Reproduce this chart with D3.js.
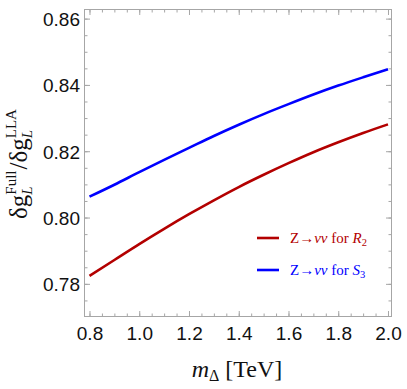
<!DOCTYPE html>
<html><head><meta charset="utf-8">
<script src="https://cdn.jsdelivr.net/npm/d3@7"></script>
<style>
html,body{margin:0;padding:0;background:#fff;}
svg{display:block;}
</style></head>
<body>
<svg id="chart" width="407" height="389"></svg>
<script>
// ---- data ----
const masses = [0.8, 0.9, 1.0, 1.1, 1.2, 1.3, 1.4, 1.5, 1.6, 1.7, 1.8, 1.9, 2.0];
const r2Values = [0.7824, 0.7872, 0.7920, 0.7966, 0.8010, 0.8052, 0.8092, 0.8129, 0.8164, 0.8197, 0.8227, 0.8255, 0.8281];
const s3Values = [0.8063, 0.8099, 0.8137, 0.8174, 0.8210, 0.8246, 0.8280, 0.8312, 0.8342, 0.8371, 0.8398, 0.8423, 0.8447];
const xTickValues = [0.8, 1.0, 1.2, 1.4, 1.6, 1.8, 2.0];
const xMinorValues = [0.8, 0.85, 0.9, 0.95, 1.0, 1.05, 1.1, 1.15, 1.2, 1.25, 1.3, 1.35, 1.4, 1.45, 1.5, 1.55, 1.6, 1.65, 1.7, 1.75, 1.8, 1.85, 1.9, 1.95, 2.0];
const yTickValues = [0.78, 0.80, 0.82, 0.84, 0.86];
const yMinorValues = [0.775, 0.78, 0.785, 0.79, 0.795, 0.80, 0.805, 0.81, 0.815, 0.82, 0.825, 0.83, 0.835, 0.84, 0.845, 0.85, 0.855, 0.86];
const seriesNames = ["R", "S"];
const seriesSubs = ["2", "3"];
const seriesColors = ["#B30000", "#0000FF"];

// ---- layout ----
const L = 84, R = 392, T = 9, B = 317;
const x = d3.scaleLinear().domain([0.7779, 2.0161]).range([L, R]);
const y = d3.scaleLinear().domain([0.7700, 0.8629]).range([B, T]);

const svg = d3.select("#chart");
svg.append("rect").attr("width", 407).attr("height", 389).attr("fill", "#fff");

const frameColor = "#a6a6a6";
const tickFont = "'Liberation Sans', Arial, sans-serif";
const serif = "'Liberation Serif', 'Times New Roman', serif";

function styleAxis(g) {
  g.select(".domain").remove();
  g.selectAll(".tick line").attr("stroke", frameColor).attr("stroke-width", 1);
  g.selectAll(".tick text").attr("fill", "#111").attr("font-family", tickFont).attr("font-size", 19);
}

// minor ticks on all sides
svg.append("g").attr("transform", `translate(0,${B})`)
  .call(d3.axisBottom(x).tickValues(xMinorValues).tickSize(-3.5).tickFormat(""))
  .call(styleAxis);
svg.append("g").attr("transform", `translate(0,${T})`)
  .call(d3.axisTop(x).tickValues(xMinorValues).tickSize(-3.5).tickFormat(""))
  .call(styleAxis);
svg.append("g").attr("transform", `translate(${L},0)`)
  .call(d3.axisLeft(y).tickValues(yMinorValues.filter(v => v >= 0.7700)).tickSize(-3.5).tickFormat(""))
  .call(styleAxis);
svg.append("g").attr("transform", `translate(${R},0)`)
  .call(d3.axisRight(y).tickValues(yMinorValues).tickSize(-3.5).tickFormat(""))
  .call(styleAxis);

// major ticks
svg.append("g").attr("transform", `translate(0,${B})`)
  .call(d3.axisBottom(x).tickValues(xTickValues).tickSize(-6).tickPadding(10).tickFormat(d3.format(".1f")))
  .call(styleAxis);
svg.append("g").attr("transform", `translate(0,${T})`)
  .call(d3.axisTop(x).tickValues(xTickValues).tickSize(-6).tickFormat(""))
  .call(styleAxis);
svg.append("g").attr("transform", `translate(${L},0)`)
  .call(d3.axisLeft(y).tickValues(yTickValues).tickSize(-6).tickPadding(4).tickFormat(d3.format(".2f")))
  .call(styleAxis)
  .call(g => g.selectAll(".tick text").attr("dy", "0.37em"));
svg.append("g").attr("transform", `translate(${R},0)`)
  .call(d3.axisRight(y).tickValues(yTickValues).tickSize(-6).tickFormat(""))
  .call(styleAxis);

// frame
svg.append("rect").attr("x", L + 0.5).attr("y", T + 0.5).attr("width", R - L - 1).attr("height", B - T - 1)
  .attr("fill", "none").attr("stroke", frameColor).attr("stroke-width", 1);

// curves
const line = d3.line().x(d => x(d[0])).y(d => y(d[1])).curve(d3.curveMonotoneX);
[r2Values, s3Values].forEach((vals, i) => {
  svg.append("path").datum(masses.map((m, j) => [m, vals[j]]))
    .attr("d", line).attr("fill", "none").attr("stroke", seriesColors[i])
    .attr("stroke-width", 2.6).attr("stroke-linecap", "butt");
});

// legend
const legY = [238, 270];
seriesNames.forEach((nm, i) => {
  const g = svg.append("g").attr("transform", `translate(0,${legY[i]})`);
  g.append("line").attr("x1", 257).attr("x2", 279).attr("y1", 0).attr("y2", 0)
    .attr("stroke", seriesColors[i]).attr("stroke-width", 2.6);
  const t = g.append("text").attr("x", 290).attr("y", 5).attr("font-family", serif)
    .attr("font-size", 15).attr("fill", seriesColors[i]);
  t.append("tspan").text("Z\u2192");
  t.append("tspan").attr("font-style", "italic").text("\u03BD\u03BD");
  t.append("tspan").text(" for ");
  t.append("tspan").attr("font-style", "italic").text(nm);
  t.append("tspan").attr("font-size", 10.5).attr("dy", 3).text(seriesSubs[i]);
});

// x axis title
{
  const t = svg.append("text").attr("font-family", serif).attr("font-size", 24).attr("fill", "#111")
    .attr("x", 237).attr("y", 377).attr("text-anchor", "middle");
  t.append("tspan").attr("font-style", "italic").text("m");
  t.append("tspan").attr("font-size", 16).attr("dy", 4).text("\u0394");
  t.append("tspan").attr("dy", -4).text(" [TeV]");
}

// y axis title (rotated), laid out piece by piece
{
  const F = 25, S = 15;
  const g = svg.append("g").attr("transform", "translate(27,163.5) rotate(-90)");
  const pieces = [];
  let cx = 0;
  function put(txt, size, italic, dy) {
    const t = g.append("text").attr("x", cx).attr("y", dy).attr("font-family", serif)
      .attr("font-size", size).attr("fill", "#111").attr("font-style", italic ? "italic" : "normal").text(txt);
    pieces.push(t);
    return t.node().getComputedTextLength();
  }
  function base(txt) { cx += put(txt, F, false, 0); }
  function scripts(sub, sup) {
    const w1 = put(sub, S, true, 5);
    const w2 = put(sup, S, false, -11);
    cx += Math.max(w1, w2) + 1;
  }
  base("\u03B4g"); scripts("L", "Full");
  base("/");
  base("\u03B4g"); scripts("L", "LLA");
  const total = cx;
  pieces.forEach(p => p.attr("x", +p.attr("x") - total / 2));
}
</script>
</body></html>
